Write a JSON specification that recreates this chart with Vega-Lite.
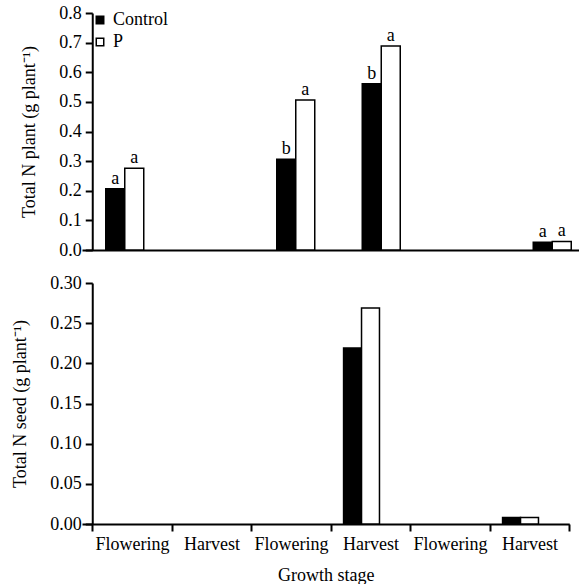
{
  "$schema": "https://vega.github.io/schema/vega-lite/v6.json",
  "padding": {"left": 11, "top": 4, "right": 0, "bottom": 0},
  "spacing": 15,
  "datasets": {
    "plant": [
      {"stage": "F1", "trt": "Control", "value": 0.207, "letter": "a"},
      {"stage": "F1", "trt": "P", "value": 0.276, "letter": "a"},
      {"stage": "F2", "trt": "Control", "value": 0.306, "letter": "b"},
      {"stage": "F2", "trt": "P", "value": 0.506, "letter": "a"},
      {"stage": "H2", "trt": "Control", "value": 0.561, "letter": "b"},
      {"stage": "H2", "trt": "P", "value": 0.689, "letter": "a"},
      {"stage": "H3", "trt": "Control", "value": 0.026, "letter": "a"},
      {"stage": "H3", "trt": "P", "value": 0.029, "letter": "a"}
    ],
    "seed": [
      {"stage": "H2", "trt": "Control", "value": 0.219},
      {"stage": "H2", "trt": "P", "value": 0.269},
      {"stage": "H3", "trt": "Control", "value": 0.008},
      {"stage": "H3", "trt": "P", "value": 0.008}
    ]
  },
  "vconcat": [
    {
      "width": 513,
      "height": 237,
      "data": {"name": "plant"},
      "encoding": {
        "x": {
          "field": "stage",
          "type": "nominal",
          "sort": null,
          "scale": {"domain": ["F1", "H1", "F2", "H2", "F3", "H3"], "paddingInner": 0, "paddingOuter": 0},
          "axis": {"labels": false, "ticks": false, "title": null, "domain": true}
        },
        "xOffset": {
          "field": "trt",
          "type": "nominal",
          "scale": {"domain": ["L", "Control", "P", "R"], "paddingInner": 0, "paddingOuter": 0.25}
        },
        "y": {
          "field": "value",
          "type": "quantitative",
          "scale": {"domain": [0, 0.8], "nice": false},
          "axis": {"values": [0, 0.1, 0.2, 0.3, 0.4, 0.5, 0.6, 0.7, 0.8], "format": ".1f", "title": "Total N plant (g plant⁻¹)", "offset": -10.25}
        }
      },
      "layer": [
        {
          "mark": {"type": "bar", "stroke": "black", "strokeWidth": 1.5},
          "encoding": {
            "fill": {
              "field": "trt",
              "type": "nominal",
              "scale": {"domain": ["Control", "P"], "range": ["black", "white"]},
              "legend": {
                "title": null,
                "orient": "none",
                "legendX": 9,
                "legendY": -2,
                "symbolType": "square",
                "symbolSize": 56,
                "symbolStrokeColor": "black",
                "symbolStrokeWidth": 1.5,
                "labelFont": "Liberation Serif",
                "labelFontSize": 18,
                "labelColor": "black",
                "labelOffset": 4,
                "rowPadding": 4,
                "padding": 0
              }
            }
          }
        },
        {
          "mark": {"type": "text", "font": "Liberation Serif", "fontSize": 18, "color": "black", "baseline": "alphabetic", "dy": -5},
          "encoding": {"text": {"field": "letter"}}
        }
      ]
    },
    {
      "width": 487.25,
      "height": 241,
      "data": {"name": "seed"},
      "encoding": {
        "x": {
          "field": "stage",
          "type": "nominal",
          "sort": null,
          "scale": {"domain": ["F1", "H1", "F2", "H2", "F3", "H3"], "paddingInner": 0, "paddingOuter": 0.0645, "align": 1},
          "axis": {
            "title": "Growth stage",
            "labelAngle": 0,
            "tickBand": "extent",
            "labelExpr": "(datum.label == 'F1' || datum.label == 'F2' || datum.label == 'F3') ? 'Flowering' : ((datum.label == 'H1' || datum.label == 'H2' || datum.label == 'H3') ? 'Harvest' : '')",
            "labelPadding": 4,
            "titlePadding": 13
          }
        },
        "xOffset": {
          "field": "trt",
          "type": "nominal",
          "scale": {"domain": ["Control", "P", "R"], "paddingInner": 0, "paddingOuter": 0.714}
        },
        "y": {
          "field": "value",
          "type": "quantitative",
          "scale": {"domain": [0, 0.3], "nice": false},
          "axis": {"values": [0, 0.05, 0.1, 0.15, 0.2, 0.25, 0.3], "format": ".2f", "title": "Total N seed (g plant⁻¹)", "offset": -10.25}
        }
      },
      "layer": [
        {
          "mark": {"type": "bar", "stroke": "black", "strokeWidth": 1.5},
          "encoding": {
            "fill": {
              "field": "trt",
              "type": "nominal",
              "scale": {"domain": ["Control", "P"], "range": ["black", "white"]},
              "legend": null
            }
          }
        }
      ]
    }
  ],
  "resolve": {"scale": {"xOffset": "independent"}},
  "config": {
    "view": {"stroke": null},
    "font": "Liberation Serif",
    "axis": {
      "grid": false,
      "domainColor": "black",
      "domainWidth": 2,
      "tickColor": "black",
      "tickWidth": 2,
      "tickSize": 7,
      "labelColor": "black",
      "labelFont": "Liberation Serif",
      "labelFontSize": 18,
      "labelPadding": 4,
      "titleColor": "black",
      "titleFont": "Liberation Serif",
      "titleFontSize": 18,
      "titleFontWeight": "normal",
      "titlePadding": 20
    }
  }
}
